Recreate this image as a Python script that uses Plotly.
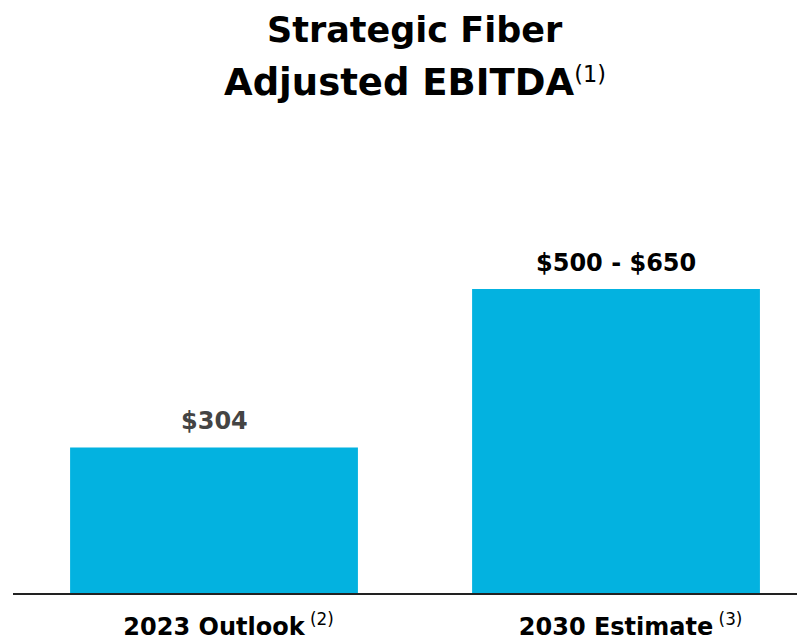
import plotly.graph_objects as go

categories = ["2023 Outlook", "2030 Estimate"]
footnotes = ["(2)", "(3)"]
values = [304, 635]
value_labels = ["$304", "$500 - $650"]
label_colors = ["#444444", "#000000"]
title_lines = ["Strategic Fiber", "Adjusted EBITDA"]
title_note = "(1)"

FONT = "DejaVu Sans"
BAR_COLOR = "#03B2E0"

# footnote marker hangs to the right of the centred label; a transparent copy on the left keeps the label centred
ticktext = [
    f"<span style='font-weight:normal;color:rgba(0,0,0,0)'><sup>{f} </sup></span>"
    f"{c}<span style='font-weight:normal'><sup> {f}</sup></span>"
    for c, f in zip(categories, footnotes)
]

fig = go.Figure(
    go.Bar(
        x=categories,
        y=values,
        marker=dict(color=BAR_COLOR, line=dict(width=0)),
        width=0.716,
        hoverinfo="skip",
    )
)

for c, v, t, col in zip(categories, values, value_labels, label_colors):
    fig.add_annotation(
        x=c, y=v, xref="x", yref="y", text=t, showarrow=False,
        yanchor="bottom", yshift=10,
        font=dict(family=FONT, size=24, color=col, weight="bold"),
    )

fig.add_annotation(
    x=0.5025, y=1.272, xref="paper", yref="paper", text=title_lines[0],
    showarrow=False, yanchor="middle", xanchor="center",
    font=dict(family=FONT, size=35, color="#000000", weight="bold"),
)
fig.add_annotation(
    x=0.5025, y=1.152, xref="paper", yref="paper",
    text=title_lines[1] + f"<span style='font-size:32px;font-weight:normal'><sup>{title_note}</sup></span>",
    showarrow=False, yanchor="middle", xanchor="center",
    font=dict(family=FONT, size=37, color="#000000", weight="bold"),
)

# page body has an 8px margin; offsets below compensate so the chart sits where the reference does
fig.update_layout(
    width=805, height=639,
    margin=dict(l=5, r=0, t=142, b=54),
    paper_bgcolor="white", plot_bgcolor="white",
    showlegend=False,
    xaxis=dict(
        range=[-0.5, 1.49],
        tickmode="array", tickvals=categories, ticktext=ticktext,
        tickfont=dict(family=FONT, size=24, color="#000000", weight="bold"),
        showline=True, linecolor="#222222", linewidth=2,
        showgrid=False, zeroline=False, ticks="",
        ticklabelstandoff=11,
    ),
    yaxis=dict(range=[0, 925], visible=False, showgrid=False, zeroline=False),
)

fig.write_html("out.html")
